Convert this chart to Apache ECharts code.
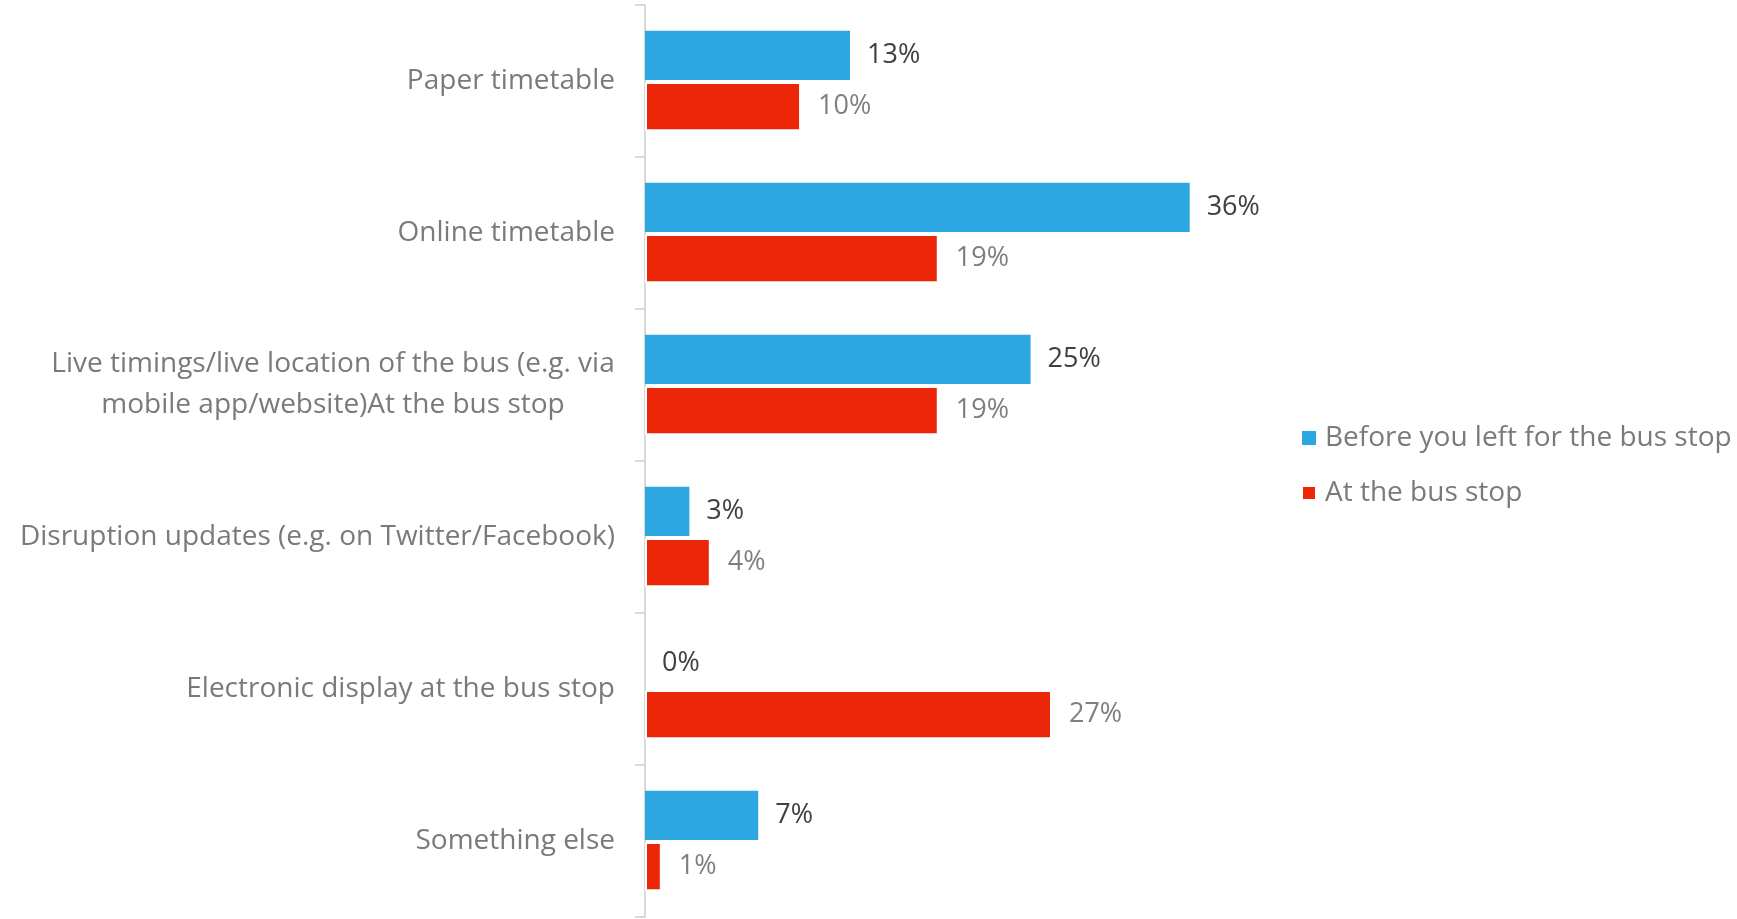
<!DOCTYPE html>
<html>
<head>
<meta charset="utf-8">
<script src="https://cdn.jsdelivr.net/npm/echarts@6/dist/echarts.min.js"></script>
<style>
html,body{margin:0;padding:0;background:#fff;}
#chart{width:1737px;height:919px;}
</style>
</head>
<body>
<div id="chart"></div>
<script>
var categories = [
  'Paper timetable',
  'Online timetable',
  'Live timings/live location of the bus (e.g. via\nmobile app/website)At the bus stop',
  'Disruption updates (e.g. on Twitter/Facebook)',
  'Electronic display at the bus stop',
  'Something else'
];
var seriesNames = ['Before you left for the bus stop', 'At the bus stop'];
var beforeValues = [13.4, 35.6, 25.2, 2.9, 0, 7.4];
var atStopValues = [10.2, 19.2, 19.2, 4.3, 26.6, 1.1];

var FONT = 'Open Sans';
var chart = echarts.init(document.getElementById('chart'), null, {renderer: 'canvas'});
function pct(p){ return Math.round(p.value) + '%'; }
function catLabel(v){
  if (v.indexOf('\n') < 0) return v;
  return v.split('\n').map(function(s){ return '{c|' + s + '}'; }).join('\n');
}
chart.setOption({
  backgroundColor: '#ffffff',
  animation: false,
  textStyle: {fontFamily: FONT},
  legend: {
    orient: 'vertical',
    left: 1296,
    top: 419,
    itemWidth: 14,
    itemHeight: 14,
    itemGap: 27,
    icon: 'rect',
    textStyle: {fontFamily: FONT, fontSize: 28, color: '#7a7a7a', padding: [0,0,0,4]},
    data: seriesNames
  },
  grid: {left: 645, top: 5, width: 612, height: 912, containLabel: false},
  xAxis: {
    type: 'value', min: 0, max: 40,
    show: false
  },
  yAxis: {
    type: 'category',
    inverse: true,
    data: categories,
    axisLine: {show: true, lineStyle: {color: '#d9d9d9', width: 2}},
    axisTick: {show: true, length: 10, lineStyle: {color: '#d9d9d9', width: 2}},
    axisLabel: {
      margin: 30,
      fontFamily: FONT,
      fontSize: 28,
      color: '#7a7a7a',
      align: 'right',
      lineHeight: 41,
      formatter: catLabel,
      rich: {
        c: {fontFamily: FONT, fontSize: 28, color: '#7a7a7a', lineHeight: 41, width: 564, align: 'center'}
      }
    }
  },
  series: [
    {
      name: seriesNames[0],
      type: 'bar',
      data: beforeValues,
      barCategoryGap: '34%',
      barGap: '4%',
      itemStyle: {color: '#2ca7e2'},
      label: {show: true, position: 'right', distance: 17, formatter: pct,
        fontFamily: FONT, fontSize: 27, color: '#404040'}
    },
    {
      name: seriesNames[1],
      type: 'bar',
      data: atStopValues,
      barCategoryGap: '34%',
      barGap: '4%',
      itemStyle: {color: '#eb2609', borderColor: '#ffffff', borderWidth: 2},
      label: {show: true, position: 'right', distance: 17, formatter: pct,
        fontFamily: FONT, fontSize: 27, color: '#7f7f7f'}
    }
  ]
});
</script>
</body>
</html>
